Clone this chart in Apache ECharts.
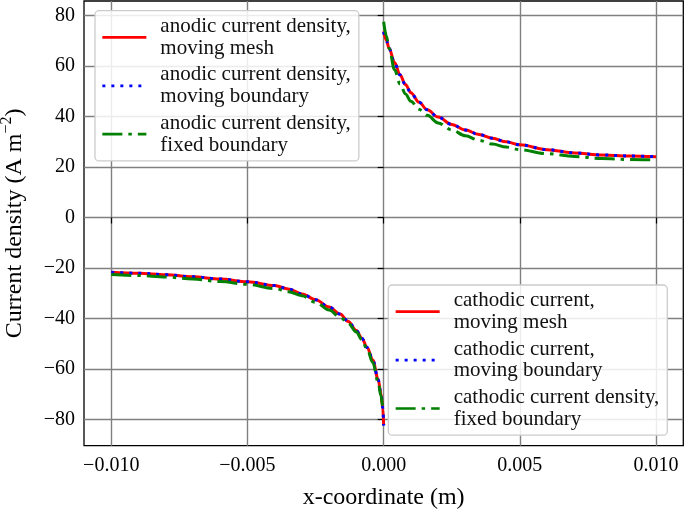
<!DOCTYPE html>
<html><head><meta charset="utf-8">
<script src="https://cdn.jsdelivr.net/npm/echarts@6/dist/echarts.min.js"></script>
<style>html,body{margin:0;padding:0;background:#fff}#c{width:685px;height:511px}</style>
</head><body><div id="c"></div>
<script>
// ---- data ----
const anodicX = [0, 0.0001, 0.0002, 0.0004, 0.0006, 0.0008, 0.001, 0.0013, 0.0016, 0.002, 0.0025, 0.003, 0.0035, 0.004, 0.0045, 0.005, 0.006, 0.007, 0.008, 0.009, 0.010];
const anodicMovingMesh     = [73.8, 70.3, 67.1, 61.4, 56.6, 52.7, 49.5, 45.7, 42.7, 39.8, 36.9, 34.7, 32.9, 31.4, 30.0, 28.8, 26.9, 25.6, 24.8, 24.4, 24.1];
const anodicMovingBoundary = [73.6, 70.2, 67.0, 61.3, 56.5, 52.6, 49.4, 45.7, 42.7, 39.8, 36.9, 34.7, 32.9, 31.4, 30.0, 28.8, 26.9, 25.6, 24.8, 24.4, 24.1];
const anodicFixedBoundary  = [77.6, 72.0, 67.0, 58.6, 53.0, 49.0, 46.1, 42.9, 40.5, 37.5, 34.7, 32.4, 30.6, 29.1, 27.9, 26.9, 25.3, 24.2, 23.4, 23.0, 22.8];

const cathodicX = [-0.010, -0.009, -0.008, -0.007, -0.006, -0.005, -0.004, -0.0035, -0.003, -0.0025, -0.002, -0.0016, -0.0013, -0.001, -0.0008, -0.0006, -0.0004, -0.0002, -0.0001, -0.00003, 0];
const cathodicMovingMesh     = [-21.7, -22.1, -22.7, -23.5, -24.4, -25.5, -27.0, -28.3, -30.3, -32.6, -35.5, -38.3, -41.2, -44.8, -47.9, -51.6, -56.5, -64.2, -69.8, -75.6, -82.3];
const cathodicMovingBoundary = [-21.7, -22.1, -22.7, -23.5, -24.4, -25.5, -27.0, -28.3, -30.3, -32.6, -35.5, -38.3, -41.2, -44.8, -47.9, -51.6, -56.5, -64.2, -69.8, -75.6, -82.5];
const cathodicFixedBoundary  = [-22.6, -23.0, -23.6, -24.4, -25.4, -26.5, -28.2, -29.4, -31.0, -33.6, -36.7, -39.5, -42.0, -45.4, -48.5, -52.4, -57.5, -65.3, -70.8, -74.9, -77.0];

const xTicks = [-0.010, -0.005, 0, 0.005, 0.010];
const yTicks = [-80, -60, -40, -20, 0, 20, 40, 60, 80];

const anodicNames = [
  'anodic current density,\nmoving mesh',
  'anodic current density,\nmoving boundary',
  'anodic current density,\nfixed boundary'
];
const cathodicNames = [
  'cathodic current,\nmoving mesh',
  'cathodic current,\nmoving boundary',
  'cathodic current density,\nfixed boundary'
];

// ---- styling ----
const FONT = 'Liberation Serif';
const RED = '#ff0000', BLUE = '#0000ff', GREEN = '#008000';
const LW = 3;
const styles = [
  {color: RED, type: 'solid'},
  {color: BLUE, type: [3, 6]},
  {color: GREEN, type: [20, 6, 3.5, 6]}
];
const minus = s => String(s).replace('-', '\u2212');

function pairs(xs, ys) { return xs.map((x, i) => [x, ys[i]]); }

function mkSeries(name, xs, ys, st) {
  return {
    name: name, type: 'line', data: pairs(xs, ys),
    symbol: 'none', smooth: 0.35, smoothMonotone: 'x',
    lineStyle: {color: st.color, width: LW, type: st.type, cap: 'butt'},
    itemStyle: {color: st.color},
    emphasis: {disabled: true}, animation: false
  };
}

const series = [
  mkSeries(anodicNames[0], anodicX, anodicMovingMesh, styles[0]),
  mkSeries(anodicNames[1], anodicX, anodicMovingBoundary, styles[1]),
  mkSeries(anodicNames[2], anodicX, anodicFixedBoundary, styles[2]),
  mkSeries(cathodicNames[0], cathodicX, cathodicMovingMesh, styles[0]),
  mkSeries(cathodicNames[1], cathodicX, cathodicMovingBoundary, styles[1]),
  mkSeries(cathodicNames[2], cathodicX, cathodicFixedBoundary, styles[2])
];

const legendBase = {
  orient: 'vertical', selectedMode: false,
  itemWidth: 44, itemHeight: 14, itemGap: 5,
  itemStyle: {opacity: 0},
  lineStyle: {width: 2.7},
  backgroundColor: 'rgba(255,255,255,0.85)',
  borderColor: '#cccccc', borderWidth: 1.3, borderRadius: 4,
  padding: [5, 8, 5, 6],
  textStyle: {fontFamily: FONT, fontSize: 21, lineHeight: 21.7, color: '#111', padding: [0, 0, 0, 9]}
};

const axisTextStyle = {fontFamily: FONT, fontSize: 20, color: '#000'};

const option = {
  animation: false,
  backgroundColor: '#fff',
  grid: {left: 84, right: 1.7, top: 1, bottom: 65.3, show: true, borderColor: '#000', borderWidth: 1.3,
         backgroundColor: 'transparent', outerBoundsMode: 'none', containLabel: false},
  xAxis: {
    type: 'value', min: -0.011, max: 0.011,
    name: 'x-coordinate (m)', nameLocation: 'middle', nameGap: 40,
    nameTextStyle: {fontFamily: FONT, fontSize: 24, color: '#000'},
    axisLine: {show: false},
    axisTick: {show: true, inside: false, length: 6, customValues: xTicks, lineStyle: {color: '#000', width: 1.2}},
    axisLabel: Object.assign({margin: 10, customValues: xTicks, formatter: v => minus(Number(v).toFixed(3))}, axisTextStyle),
    splitLine: {show: true, lineStyle: {color: '#808080', width: 1.4}}
  },
  yAxis: {
    type: 'value', min: -90.47, max: 85.83,
    name: '{n|Current density (A m}{s|\u22122}{n|)}', nameLocation: 'middle', nameGap: 57, nameRotate: 90,
    nameTextStyle: {
      fontFamily: FONT, fontSize: 24, color: '#000',
      rich: {
        n: {fontFamily: FONT, fontSize: 24, color: '#000', lineHeight: 28, verticalAlign: 'bottom'},
        s: {fontFamily: FONT, fontSize: 16, color: '#000', lineHeight: 28, verticalAlign: 'top'}
      }
    },
    axisLine: {show: false},
    axisTick: {show: true, inside: false, length: 6, customValues: yTicks, lineStyle: {color: '#000', width: 1.2}},
    axisLabel: Object.assign({margin: 9, customValues: yTicks, formatter: v => minus(v)}, axisTextStyle),
    splitLine: {show: true, lineStyle: {color: '#808080', width: 1.4}}
  },
  legend: [
    Object.assign({}, legendBase, {left: 95, top: 10.7, data: anodicNames}),
    Object.assign({}, legendBase, {left: 388.3, top: 285, data: cathodicNames})
  ],
  series: series
};

const chart = echarts.init(document.getElementById('c'), null, {renderer: 'canvas'});
chart.setOption(option);
</script>
</body></html>
